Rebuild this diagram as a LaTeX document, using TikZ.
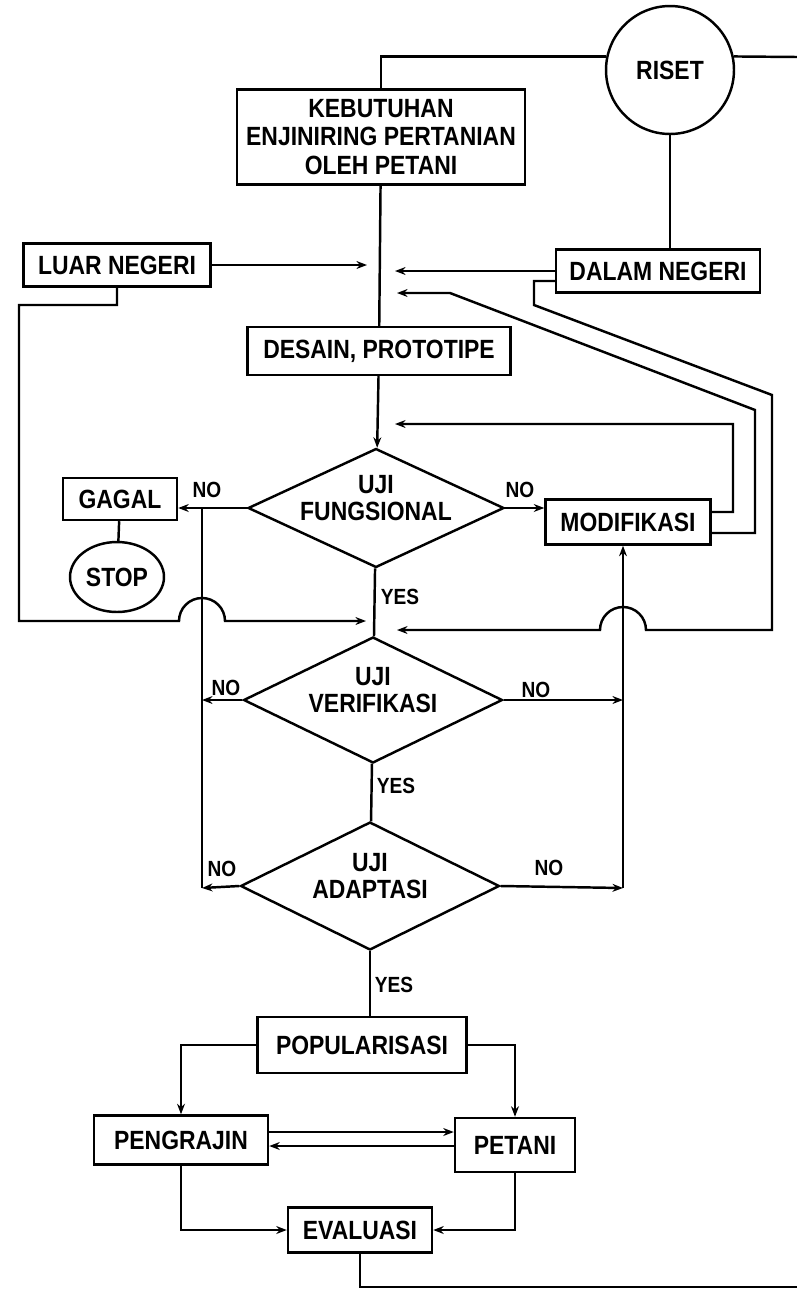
\documentclass[tikz,border=0pt]{standalone}
\usepackage{fontspec}
\setmainfont{Liberation Sans}
\newfontfamily\boxfont{Liberation Sans}[FakeStretch=0.87]
\usetikzlibrary{shapes.geometric,arrows.meta}

\tikzset{
  line/.style={line width=1.4pt},
  arr/.style={line width=1.4pt, -{Stealth[length=6pt,width=4.5pt]}},
  box/.style={draw, line width=1.4pt, inner sep=2pt, align=center,
    font=\boxfont\bfseries\fontsize{15}{16}\selectfont},
  test/.style={draw, diamond, line width=1.4pt, inner sep=0pt},
  testtxt/.style={align=center, yshift=0.2cm,
    font=\boxfont\bfseries\fontsize{15}{15.5}\selectfont},
  tag/.style={font=\boxfont\bfseries\fontsize{12.5}{13}\selectfont},
}

\begin{document}
\begin{tikzpicture}[x=0.02cm, y=-0.02cm]
    \useasboundingbox (0,0) rectangle (797,1292);

    % upper part
    \node[box, circle, minimum size=2.56cm, inner sep=0pt] (riset) at (670,70) {RISET};
    \node[box, minimum width=5.76cm, minimum height=1.9cm] (kebutuhan) at (381,137)
        {KEBUTUHAN\\ENJINIRING PERTANIAN\\OLEH PETANI};
    \node[box, minimum width=3.74cm, minimum height=0.86cm] (luar) at (117,265) {LUAR NEGERI};
    \node[box, minimum width=4.08cm, minimum height=0.86cm] (dalam) at (658,271) {DALAM NEGERI};
    \node[box, minimum width=5.26cm, minimum height=0.96cm] (desain) at (379,351) {DESAIN, PROTOTIPE};

    % tests
    \node[test, minimum width=5.12cm, minimum height=2.38cm,
        label={[testtxt]center:UJI\\FUNGSIONAL}] (fungsi) at (376,508) {};
    \node[box, minimum width=2.28cm, minimum height=0.84cm] (gagal) at (120,499) {GAGAL};
    \node[box, ellipse, minimum width=1.88cm, minimum height=1.4cm, inner sep=0pt] (stop) at (117,577) {STOP};
    \node[box, minimum width=3.3cm, minimum height=0.9cm] (modif) at (628,522) {MODIFIKASI};
    \node[test, minimum width=5.18cm, minimum height=2.52cm,
        label={[testtxt]center:UJI\\VERIFIKASI}] (verif) at (373,700) {};
    \node[test, minimum width=5.18cm, minimum height=2.56cm,
        label={[testtxt]center:UJI\\ADAPTASI}] (adapt) at (370,886) {};

    % lower part
    \node[box, minimum width=4.18cm, minimum height=1.12cm] (popul) at (362,1045) {POPULARISASI};
    \node[box, minimum width=3.48cm, minimum height=0.98cm] (pengr) at (181,1140) {PENGRAJIN};
    \node[box, minimum width=2.4cm, minimum height=1.08cm] (petani) at (515,1145) {PETANI};
    \node[box, minimum width=2.88cm, minimum height=0.9cm] (evalu) at (360,1230) {EVALUASI};

    % yes / no
    \node[tag] (no1) at (207,490) {NO};
    \node[tag] (no2) at (520,490) {NO};
    \node[tag] (yes1) at (400,597) {YES};
    \node[tag] (no3) at (226,688) {NO};
    \node[tag] (no4) at (536,690) {NO};
    \node[tag] (yes2) at (396,786) {YES};
    \node[tag] (no5) at (222,869) {NO};
    \node[tag] (no6) at (549,868) {NO};
    \node[tag] (yes3) at (394,985) {YES};

    % free ends
    \coordinate (rout) at (797,57);
    \coordinate (eout) at (797,1287);
    \coordinate (cL1) at (367,265);
    \coordinate (cR1) at (395,271);
    \coordinate (cR2) at (397,293);
    \coordinate (cR3) at (395,424);
    \coordinate (cL2) at (366,621);
    \coordinate (cR4) at (397,630);
    \coordinate (cV1) at (202,888);
    \coordinate (cV2) at (623,888);

    % riset and the need
    \draw[line] (kebutuhan.north) |- (riset.168);
    \draw[line] (riset.12) -- (rout);
    \draw[line] (riset.south) -- (riset.south |- dalam.north);
    \draw[line] (kebutuhan) -- (desain);
    \draw[arr] (luar.east) -- (cL1);
    \draw[arr] (dalam.west) -- (cR1);

    % loops back from modifikasi and dalam negeri
    \draw[arr] ([yshift=-0.22cm]modif.east) -- (755,533) -- (755,410) -- (450,293) -- (cR2);
    \draw[arr] ([yshift=0.2cm]modif.east) -- (733,512) -- (733,424) -- (cR3);
    \draw[arr] ([yshift=-0.2cm]dalam.west) -- (534,281) -- (534,305) -- (772,395) -- (772,630)
        -- (646,630) arc[start angle=0, end angle=-180, radius=23] -- (cR4);
    \draw[arr] (luar.south) -- (117,305) -- (19,305) -- (19,621)
        -- (179,621) arc[start angle=180, end angle=360, radius=23] -- (cL2);

    % tests
    \draw[arr] (desain) -- (fungsi);
    \draw[arr] (fungsi.west) -- (fungsi.west -| gagal.east);
    \draw[arr] (fungsi.east) -- (fungsi.east -| modif.west);
    \draw[line] (gagal) -- (stop);
    \draw[line] (fungsi) -- (verif);
    \draw[line] (verif) -- (adapt);
    \draw[arr] (verif.west) -- (verif.west -| cV1);
    \draw[arr] (adapt.west) -- (cV1);
    \draw[line] (cV1) -- (fungsi.west -| cV1);
    \draw[arr] (verif.east) -- (verif.east -| cV2);
    \draw[arr] (adapt.east) -- (cV2);
    \draw[arr] (cV2) -- (cV2 |- modif.south);
    \draw[line] (adapt.south) -- (adapt.south |- popul.north);

    % popularisasi
    \draw[arr] (popul.west) -| (pengr.north);
    \draw[arr] (popul.east) -| (petani.north);
    \draw[arr] ([yshift=0.16cm]pengr.east) -- ([yshift=0.16cm]pengr.east -| petani.west);
    \draw[arr] ([yshift=-0.12cm]pengr.east -| petani.west) -- ([yshift=-0.12cm]pengr.east);
    \draw[arr] (pengr.south) |- (evalu.west);
    \draw[arr] (petani.south) |- (evalu.east);
    \draw[line] (evalu.south) |- (eout);
\end{tikzpicture}
\end{document}
